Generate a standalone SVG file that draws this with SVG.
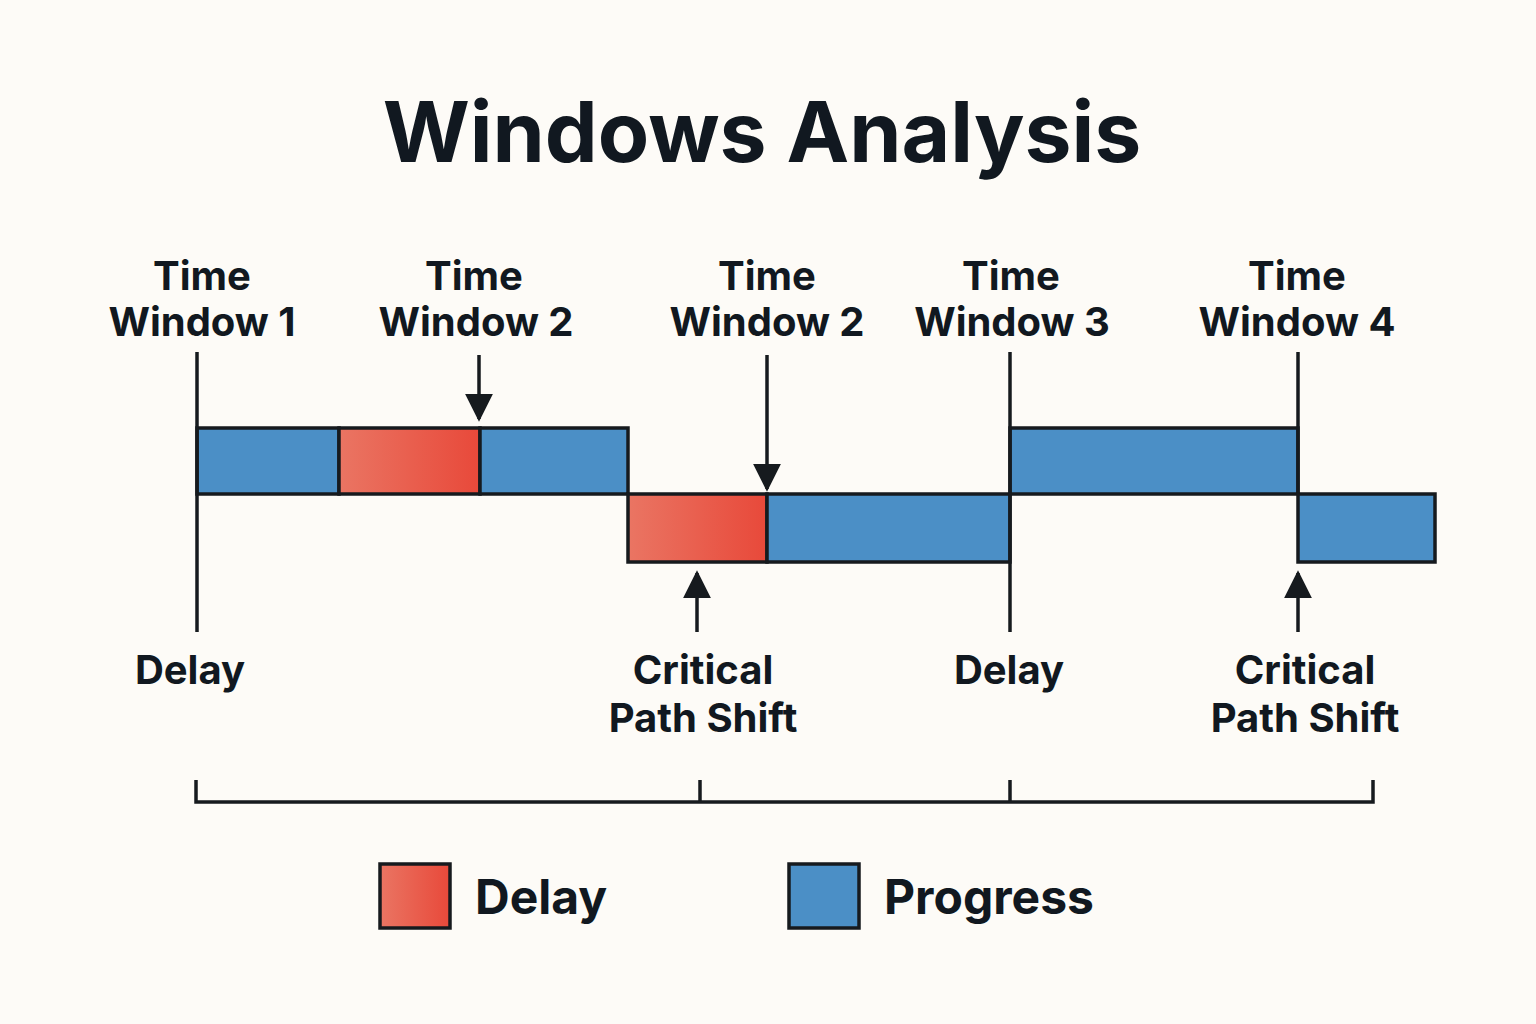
<svg xmlns="http://www.w3.org/2000/svg" width="1536" height="1024" viewBox="0 0 1536 1024">
<style>
.t{font-family:Inter,"Liberation Sans",sans-serif;font-weight:700;fill:#111820;text-anchor:middle}
.lb{font-size:40px}
.bar{stroke:#161a1e;stroke-width:3.5}
.blue{fill:#4b8fc6}
.ln{stroke:#161a1e;stroke-width:3.5;fill:none}
</style>
<defs>
<linearGradient id="rg" x1="0" x2="1" y1="0" y2="0"><stop offset="0" stop-color="#ea7563"/><stop offset="1" stop-color="#e8493a"/></linearGradient>
<marker id="ah" viewBox="0 0 10 10" refX="9" refY="5" markerWidth="7" markerHeight="7" markerUnits="userSpaceOnUse" orient="auto"><path d="M0,0L10,5L0,10z" fill="#161a1e"/></marker>
<marker id="a" viewBox="0 0 10 10" refX="9" refY="5" markerWidth="8" markerHeight="8" orient="auto"><path d="M0,0L10,5L0,10z" fill="#161a1e"/></marker>
</defs>
<rect width="1536" height="1024" fill="#fdfbf7"/>
<text class="t" x="762" y="162" font-size="84">Windows Analysis</text>
<g id="labels-top">
<text class="t lb" x="202" y="290">Time</text><text class="t lb" x="202" y="336">Window 1</text>
<text class="t lb" x="474" y="290">Time</text><text class="t lb" x="476" y="336">Window 2</text>
<text class="t lb" x="767" y="290">Time</text><text class="t lb" x="767" y="336">Window 2</text>
<text class="t lb" x="1011" y="290">Time</text><text class="t lb" x="1012" y="336">Window 3</text>
<text class="t lb" x="1297" y="290">Time</text><text class="t lb" x="1297" y="336">Window 4</text>
</g>
<g id="bars">
<rect class="bar blue" x="197" y="428" width="142" height="66"/>
<rect class="bar" fill="url(#rg)" x="339" y="428" width="141" height="66"/>
<rect class="bar blue" x="480" y="428" width="148" height="66"/>
<rect class="bar" fill="url(#rg)" x="628" y="494" width="139" height="68"/>
<rect class="bar blue" x="767" y="494" width="243" height="68"/>
<rect class="bar blue" x="1010" y="428" width="288" height="66"/>
<rect class="bar blue" x="1298" y="494" width="137" height="68"/>
</g>
<g id="connectors">
<line class="ln" x1="197" y1="352" x2="197" y2="632"/>
<line class="ln" x1="1010" y1="352" x2="1010" y2="632"/>
<line class="ln" x1="1298" y1="352" x2="1298" y2="494"/>
<line class="ln" x1="479" y1="355" x2="479" y2="419" marker-end="url(#a)"/>
<line class="ln" x1="767" y1="355" x2="767" y2="489" marker-end="url(#a)"/>
<line class="ln" x1="697" y1="632" x2="697" y2="573" marker-end="url(#a)"/>
<line class="ln" x1="1298" y1="632" x2="1298" y2="573" marker-end="url(#a)"/>
<path class="ln" d="M196,780V802H1373V780M700,780V802M1010,780V802"/>
</g>
<g id="labels-bottom">
<text class="t lb" x="190" y="684">Delay</text>
<text class="t lb" x="703" y="684">Critical</text><text class="t lb" x="703" y="732">Path Shift</text>
<text class="t lb" x="1009" y="684">Delay</text>
<text class="t lb" x="1305" y="684">Critical</text><text class="t lb" x="1305" y="732">Path Shift</text>
</g>
<g id="legend">
<rect class="bar" fill="url(#rg)" x="380" y="864" width="70" height="64"/>
<text class="t" x="475" y="914" font-size="48" style="text-anchor:start">Delay</text>
<rect class="bar blue" x="789" y="864" width="70" height="64"/>
<text class="t" x="884" y="914" font-size="48" style="text-anchor:start">Progress</text>
</g>
</svg>
